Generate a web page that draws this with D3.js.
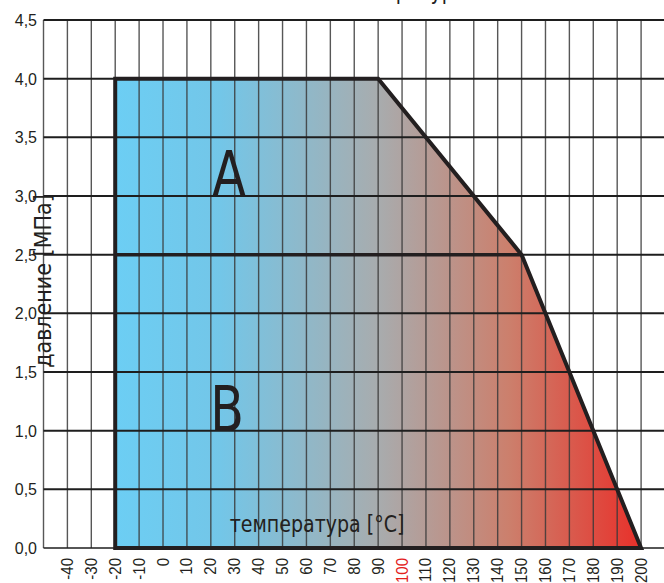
<!DOCTYPE html>
<html><head><meta charset="utf-8">
<script src="https://cdn.jsdelivr.net/npm/d3@7"></script>
<style>body{margin:0;background:#fff}svg{display:block}</style>
</head><body>
<svg id="c" width="664" height="583"></svg>
<script>
const xTicks = [-40,-30,-20,-10,0,10,20,30,40,50,60,70,80,90,100,110,120,130,140,150,160,170,180,190,200];
const xGrid = [-50,-40,-30,-20,-10,0,10,20,30,40,50,60,70,80,90,100,110,120,130,140,150,160,170,180,190,200,210];
const yTicks = [0,0.5,1.0,1.5,2.0,2.5,3.0,3.5,4.0,4.5];
const yLabels = ["0,0","0,5","1,0","1,5","2,0","2,5","3,0","3,5","4,0","4,5"];
const zoneTemp = [-20,-20,90,150,200];
const zonePress = [0,4.0,4.0,2.5,0];
const lineBTemp = [-20,150];
const lineBPress = [2.5,2.5];
const highlightTick = 100;

const svg = d3.select("#c");
const font = "'Liberation Sans Narrow','DejaVu Sans Condensed','Roboto Condensed',sans-serif";
const x = d3.scaleLinear().domain([-50,210]).range([43.5,665]);
const y = d3.scaleLinear().domain([0,4.5]).range([548,20]);

const defs = svg.append("defs");
const grad = defs.append("linearGradient").attr("id","g").attr("gradientUnits","userSpaceOnUse")
  .attr("x1",x(-20)).attr("x2",x(200)).attr("y1",0).attr("y2",0);
grad.append("stop").attr("offset","0").attr("stop-color","#6ccef4");
grad.append("stop").attr("offset","0.2").attr("stop-color","#73c6e8");
grad.append("stop").attr("offset","0.5").attr("stop-color","#a8acae");
grad.append("stop").attr("offset","0.75").attr("stop-color","#cc7f6c");
grad.append("stop").attr("offset","1").attr("stop-color","#e8302a");

const pts = zoneTemp.map((t,i)=>[x(t),y(zonePress[i])]);
svg.append("path").attr("d","M"+pts.map(p=>p.join(",")).join("L")+"Z").attr("fill","url(#g)");

svg.append("g").selectAll("line").data(xGrid).join("line")
  .attr("x1",d=>x(d)).attr("x2",d=>x(d)).attr("y1",y(4.5)).attr("y2",y(0))
  .attr("stroke","#3a3a3a").attr("stroke-opacity",0.85).attr("stroke-width",1.4);
svg.append("g").selectAll("line").data(yTicks).join("line")
  .attr("x1",x(-50)).attr("x2",664).attr("y1",d=>y(d)).attr("y2",d=>y(d))
  .attr("stroke","#1e1e1e").attr("stroke-width",d=>d===0?1.5:2);

svg.append("path").attr("d","M"+pts.map(p=>p.join(",")).join("L")+"Z")
  .attr("fill","none").attr("stroke","#231f20").attr("stroke-width",4).attr("stroke-linejoin","miter");
svg.append("line").attr("x1",x(lineBTemp[0])).attr("x2",x(lineBTemp[1]))
  .attr("y1",y(lineBPress[0])).attr("y2",y(lineBPress[1]))
  .attr("stroke","#231f20").attr("stroke-width",3.5);

svg.append("g").selectAll("text").data(yTicks).join("text")
  .attr("x",37).attr("y",d=>y(d)+6).attr("text-anchor","end")
  .attr("font-family","'Liberation Sans','Arial',sans-serif").attr("font-size",16).attr("fill","#231f20")
  .text((d,i)=>yLabels[i]);

svg.append("g").selectAll("text").data(xTicks).join("text")
  .attr("transform",d=>`translate(${x(d)+5.5},558) rotate(-90) scale(1,1.08)`)
  .attr("text-anchor","end")
  .attr("font-family","'Liberation Sans','Arial',sans-serif").attr("font-size",15)
  .attr("fill",d=>d===highlightTick?"#e3201b":"#231f20")
  .text(d=>d);

svg.append("text").attr("transform","translate(229,196) scale(0.88,1)").attr("text-anchor","middle")
  .attr("font-family",font).attr("font-size",62).attr("fill","#231f20").text("A");
svg.append("text").attr("transform","translate(227,431) scale(0.88,1)").attr("text-anchor","middle")
  .attr("font-family",font).attr("font-size",62).attr("fill","#231f20").text("B");

svg.append("text").attr("transform","translate(317,532) scale(0.92,1)").attr("text-anchor","middle")
  .attr("font-family",font).attr("font-size",23).attr("fill","#231f20").text("температура [°C]");
svg.append("text").attr("transform","translate(51,281) rotate(-90)").attr("text-anchor","middle")
  .attr("font-family",font).attr("font-size",23).attr("fill","#231f20").text("давление [МПа]");
svg.append("text").attr("transform","translate(400,-1) scale(0.92,1)").attr("text-anchor","middle")
  .attr("font-family",font).attr("font-size",23).attr("fill","#231f20").text("температура");
</script>
</body></html>
